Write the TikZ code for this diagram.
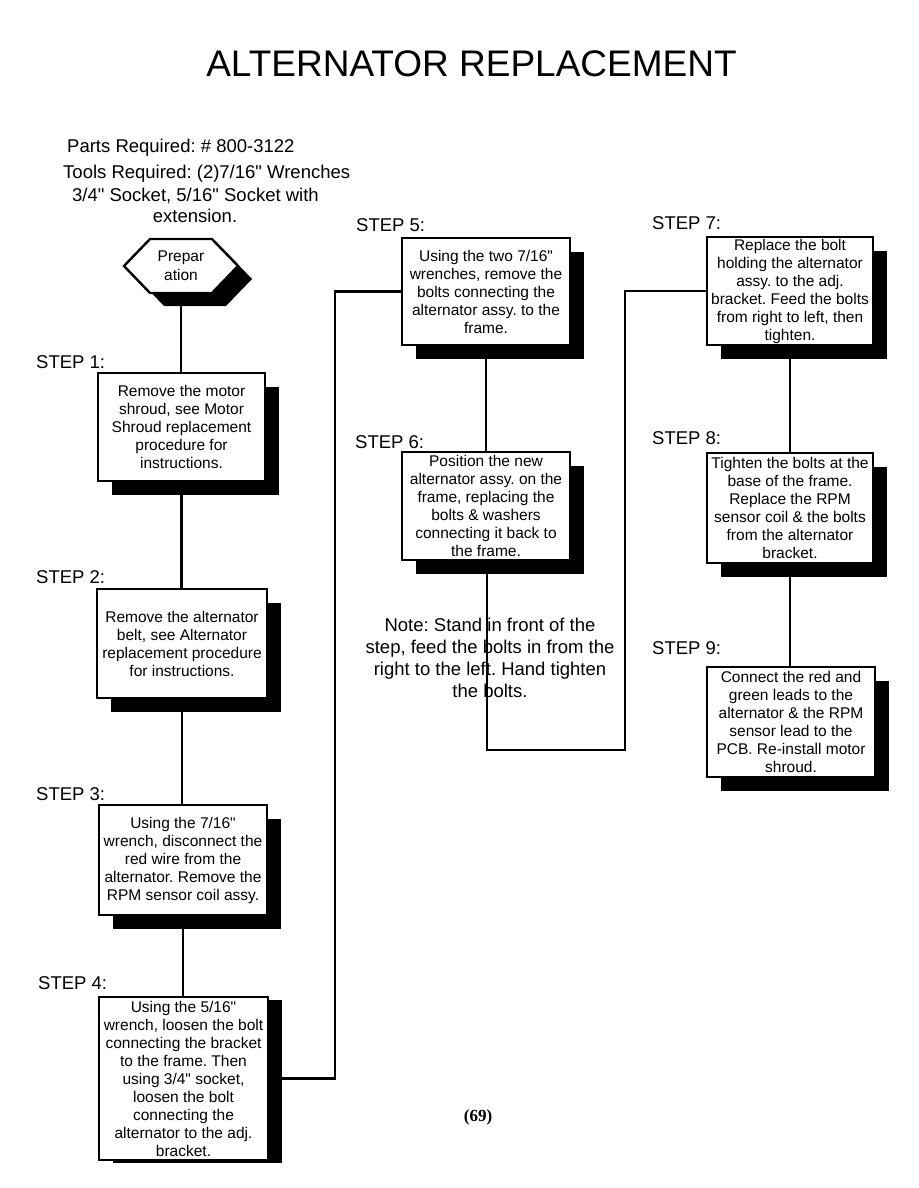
\documentclass[tikz,border=0pt]{standalone}
\usepackage{fontspec}
\setmainfont{Liberation Sans}
\newfontfamily\arial{Liberation Sans}
\newfontfamily\pgnumfont{Liberation Serif}
\usetikzlibrary{shadows}
\pgfdeclarelayer{background}
\pgfsetlayers{background,main}
\frenchspacing
\begin{document}
\begin{tikzpicture}[x=1pt,y=-1pt,
  boxbase/.style={draw,line width=2.4pt,fill=white,inner sep=0pt,align=center,
     font=\arial\fontsize{15.5}{18}\selectfont},
  stepbox/.style={boxbase,
     drop shadow={shadow xshift=14pt,shadow yshift=-14pt,fill=black,opacity=1}},
  steplabel/.style={anchor=base west,inner sep=0pt,font=\arial\fontsize{18.5}{22}\selectfont},
  conn/.style={line width=2.4pt}]
\useasboundingbox (0,0) rectangle (918,1188);

% title and header text
\node[font=\arial\fontsize{37}{44}\selectfont,inner sep=0pt,anchor=base] (title) at (471.5,77) {ALTERNATOR REPLACEMENT};
\node[steplabel] (parts) at (67,152) {Parts Required: \# 800-3122};
\node[steplabel] (tools) at (63,178) {Tools Required: (2)7/16" Wrenches};
\node[steplabel] (tools2) at (72,201) {3/4" Socket, 5/16" Socket with};
\node[inner sep=0pt,anchor=base,font=\arial\fontsize{18.5}{22}\selectfont] (tools3) at (195,222) {extension.};

% preparation hexagon
\fill[black] (138,279) -- (164,252) -- (226,252) -- (252,279) -- (226,306) -- (164,306) -- cycle;
\draw[line width=2.4pt,fill=white] (124,266) -- (150,239) -- (212,239) -- (238,266) -- (212,293) -- (150,293) -- cycle;
\node[inner sep=0pt,minimum width=114pt,minimum height=54pt,align=center,
      font=\arial\fontsize{15.5}{19}\selectfont] (prep) at (181,266) {Prepar\\ation};

% step labels
\node[steplabel] (l1) at (36,368) {STEP 1:};
\node[steplabel] (l2) at (36,583) {STEP 2:};
\node[steplabel] (l3) at (36,800) {STEP 3:};
\node[steplabel] (l4) at (38,989) {STEP 4:};
\node[steplabel] (l5) at (356,231) {STEP 5:};
\node[steplabel] (l6) at (355,448) {STEP 6:};
\node[steplabel] (l7) at (652,229) {STEP 7:};
\node[steplabel] (l8) at (652,444) {STEP 8:};
\node[steplabel] (l9) at (652,654) {STEP 9:};

% step boxes
\node[stepbox,minimum width=167pt,minimum height=108pt] (s1) at (181.5,427)
  {Remove the motor\\shroud, see Motor\\Shroud replacement\\procedure for\\instructions.};
\node[stepbox,minimum width=170pt,minimum height=109pt] (s2) at (182,643.5)
  {Remove the alternator\\belt, see Alternator\\replacement procedure\\for instructions.};
\node[stepbox,minimum width=168pt,minimum height=110pt] (s3) at (183,860)
  {Using the 7/16"\\wrench, disconnect the\\red wire from the\\alternator. Remove the\\RPM sensor coil assy.};
\node[boxbase,minimum width=169pt,minimum height=163pt,
      drop shadow={shadow xshift=14pt,shadow yshift=-3pt,fill=black,opacity=1}] (s4) at (183.5,1078.5)
  {Using the 5/16"\\wrench, loosen the bolt\\connecting the bracket\\to the frame. Then\\using 3/4" socket,\\loosen the bolt\\connecting the\\alternator to the adj.\\bracket.};
\node[stepbox,minimum width=168pt,minimum height=107pt] (s5) at (486,291.5)
  {Using the two 7/16"\\wrenches, remove the\\bolts connecting the\\alternator assy. to the\\frame.};
\node[stepbox,minimum width=168pt,minimum height=108pt] (s6) at (486,506)
  {Position the new\\alternator assy. on the\\frame, replacing the\\bolts \& washers\\connecting it back to\\the frame.};
\node[stepbox,minimum width=166pt,minimum height=108pt] (s7) at (790,291)
  {Replace the bolt\\holding the alternator\\assy. to the adj.\\bracket. Feed the bolts\\from right to left, then\\tighten.};
\node[stepbox,minimum width=166pt,minimum height=110pt] (s8) at (790,508)
  {Tighten the bolts at the\\base of the frame.\\Replace the RPM\\sensor coil \& the bolts\\from the alternator\\bracket.};
\node[stepbox,minimum width=168pt,minimum height=110pt] (s9) at (791,722)
  {Connect the red and\\green leads to the\\alternator \& the RPM\\sensor lead to the\\PCB. Re-install motor\\shroud.};

% note
\node[inner sep=0pt,align=center,font=\arial\fontsize{18.5}{22}\selectfont] (note) at (490,658)
  {Note: Stand in front of the\\step, feed the bolts in from the\\right to the left. Hand tighten\\the bolts.};

% page number
\node[inner sep=0pt,anchor=base,font=\pgnumfont\bfseries\fontsize{17}{20}\selectfont] (page) at (478,1121) {(69)};

\coordinate (b6) at (487,750);
\coordinate (b7) at (625,750);
\coordinate (j4) at (335,1078.5);

\begin{pgfonlayer}{background}
\draw[conn] (prep.south) -- (prep.south |- s1.north);
\draw[conn] (s1.south) -- (s1.south |- s2.north);
\draw[conn] (s2.south) -- (s2.south |- s3.north);
\draw[conn] (s3.south) -- (s3.south |- s4.north);
\draw[conn] (s4.east) -- (j4) |- (s5.west);
\draw[conn] (s5.south) -- (s5.south |- s6.north);
\draw[conn] (s6.south -| b6) -- (b6) -- (b7) |- (s7.west);
\draw[conn] (s7.south) -- (s7.south |- s8.north);
\draw[conn] (s8.south) -- (s8.south |- s9.north);
\end{pgfonlayer}
\end{tikzpicture}
\end{document}
